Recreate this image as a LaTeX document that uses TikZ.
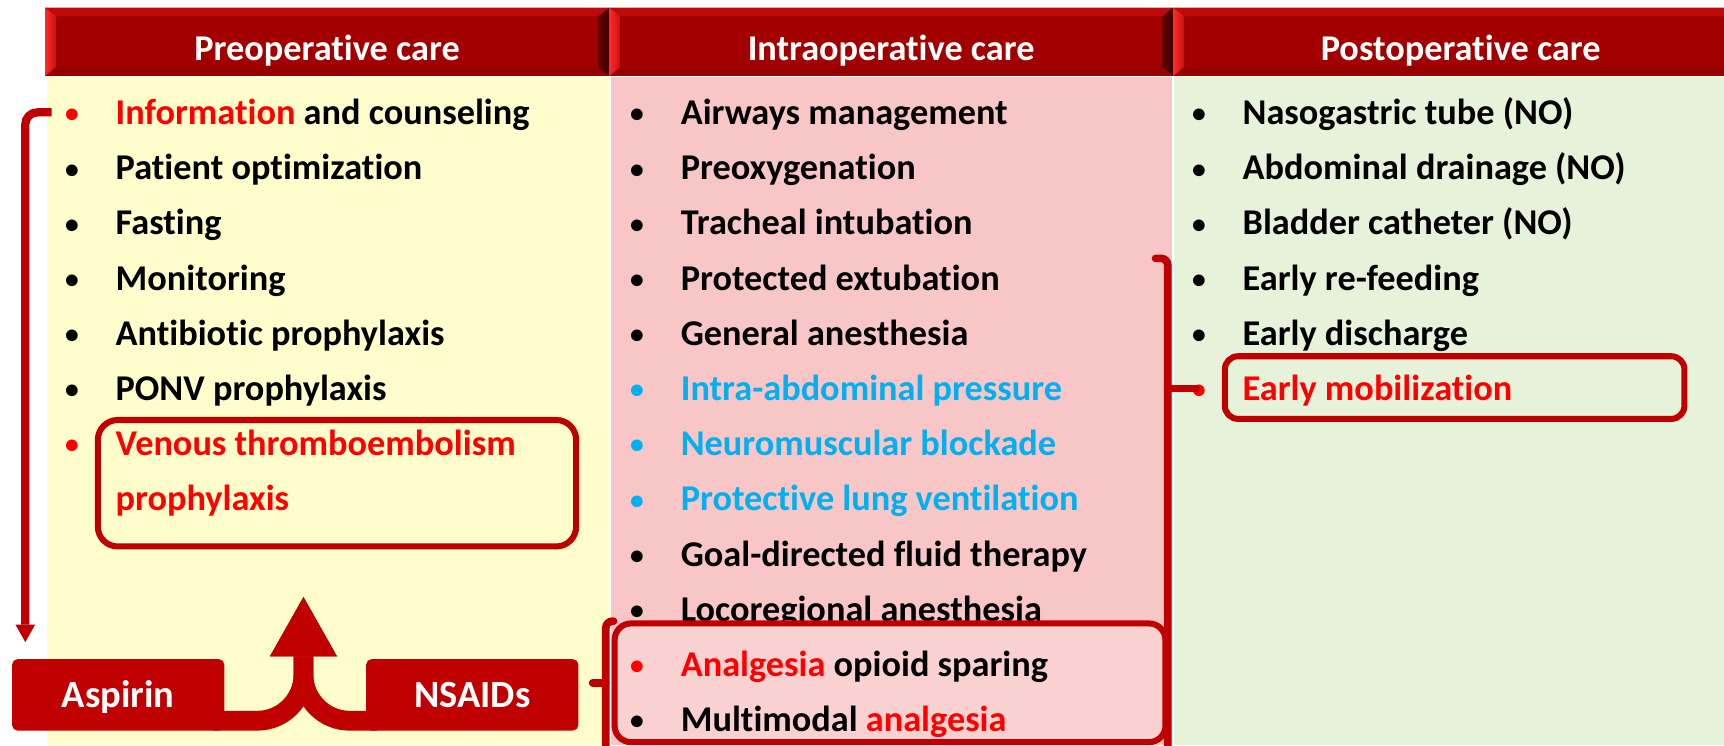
\documentclass[tikz,border=0pt]{standalone}
\usepackage{fontspec}
\setmainfont{Carlito}[Ligatures=NoCommon]
\usetikzlibrary{arrows.meta,positioning}

% keep "t" and "i" apart (no ti ligature)
\XeTeXinterchartokenstate=1
\newXeTeXintercharclass\tletter
\newXeTeXintercharclass\iletter
\XeTeXcharclass`t=\tletter
\XeTeXcharclass`i=\iletter
\XeTeXinterchartoks\tletter\iletter={\kern0pt}

% colours
\definecolor{hdface}{HTML}{A20000}
\definecolor{hdtop}{HTML}{BE0A0A}
\definecolor{hdbot}{HTML}{950000}
\definecolor{hdlit}{HTML}{FF2A2A}
\definecolor{hddark}{HTML}{3C0000}
\definecolor{boxred}{HTML}{C00000}
\definecolor{txtred}{HTML}{FF0000}
\definecolor{txtblue}{HTML}{00B0F0}
\definecolor{preBg}{HTML}{FFFDCB}
\definecolor{intraBg}{HTML}{F8C6C6}
\definecolor{postBg}{HTML}{E6F2DA}
\definecolor{analgBg}{HTML}{FAD1D1}

\newcommand{\listfont}{\fontsize{33}{40}\selectfont\bfseries}
\newcommand{\drugfont}{\fontsize{35}{42}\selectfont\bfseries}
\newcommand{\redtxt}[1]{\textcolor{txtred}{#1}}
\newcommand{\bluetxt}[1]{\textcolor{txtblue}{#1}}
% bullet + text, bullet colour optional
\newcommand{\itm}[2][black]{\makebox[48pt][l]{\hspace{2pt}\raisebox{1.5pt}{\fontsize{25}{25}\selectfont\textcolor{#1}{\textbullet}}}#2}

% bevelled title bar: left x, right x, name, title
\newcommand{\headbar}[4]{%
  \fill[hdface] (#1,7) rectangle (#2,69);
  \fill[hdtop] (#1,7) -- (#2,7) -- (#2-10,15) -- (#1+10,15) -- cycle;
  \fill[hdbot] (#1,69) -- (#2,69) -- (#2-10,61) -- (#1+10,61) -- cycle;
  \shade[left color=hdlit, right color=hdface!60!hdlit] (#1,7) -- (#1+10,15) -- (#1+10,61) -- (#1,69) -- cycle;
  \shade[left color=hddark!60!hdface, right color=hddark] (#2,7) -- (#2-10,15) -- (#2-10,61) -- (#2,69) -- cycle;
  \node[headtitle] (#3) at ({(#1+#2)/2},55) {#4};
}

\begin{document}
\begin{tikzpicture}[
    x = 1pt, y = -1pt, % points, y going down
    listitem/.style = {anchor=base west, inner sep=0pt, font=\listfont,
                       text height=23pt, text depth=7pt},
    headtitle/.style = {anchor=base, inner sep=0pt, text=white, font=\listfont},
    ringbox/.style = {draw=boxred, line width=5.5pt, inner sep=0pt},
    drugbox/.style = {fill=boxred, text=white, font=\drugfont, rounded corners=5pt,
                      minimum width=193pt, minimum height=65pt, inner sep=0pt,
                      outer sep=0pt, text height=23pt, text depth=0pt},
    bracketline/.style = {draw=boxred, line width=7pt, line cap=round, rounded corners=6pt},
    flowarrow/.style = {draw=boxred, line width=7.5pt, rounded corners=11pt,
                        -{Triangle[width=18pt,length=16pt,line width=0pt]}},
    mergeband/.style = {draw=boxred, line width=18pt, rounded corners=42pt,
                        -{Triangle[width=61pt,length=54pt,line width=0pt]}}
    ]
    \useasboundingbox (0,0) rectangle (1568,678);
    \fill[white] (0,0) rectangle (1568,678);

    % column backgrounds
    \fill[preBg] (43,70) rectangle (553.5,678);
    \fill[intraBg] (555.5,70) rectangle (1066,678);
    \fill[postBg] (1068,70) rectangle (1568,678);

    % title bars
    \headbar{41}{554}{preHead}{Preoperative care}
    \headbar{554}{1067}{intraHead}{Intraoperative care}
    \headbar{1067}{1590}{postHead}{Postoperative care}

    % preoperative list
    \foreach \txt [count=\i] in {
        {\itm[txtred]{\redtxt{Information} and counseling}},
        {\itm{Patient optimization}},
        {\itm{Fasting}},
        {\itm{Monitoring}},
        {\itm{Antibiotic prophylaxis}},
        {\itm{PONV prophylaxis}},
        {\itm[txtred]{\redtxt{Venous thromboembolism}}},
        {\hspace*{48pt}\redtxt{prophylaxis}}}
      \node[listitem] (pre\i) at (57,63+50.2*\i) {\txt};

    % postoperative list
    \foreach \txt [count=\i] in {
        {\itm{Nasogastric tube (NO)}},
        {\itm{Abdominal drainage (NO)}},
        {\itm{Bladder catheter (NO)}},
        {\itm{Early re-feeding}},
        {\itm{Early discharge}},
        {\itm[txtred]{\redtxt{Early mobilization}}}}
      \node[listitem] (post\i) at (1082,63+50.2*\i) {\txt};

    % intraoperative list
    \foreach \txt [count=\i] in {
        {\itm{Airways management}},
        {\itm{Preoxygenation}},
        {\itm{Tracheal intubation}},
        {\itm{Protected extubation}},
        {\itm{General anesthesia}},
        {\itm[txtblue]{\bluetxt{Intra-abdominal pressure}}},
        {\itm[txtblue]{\bluetxt{Neuromuscular blockade}}},
        {\itm[txtblue]{\bluetxt{Protective lung ventilation}}},
        {\itm{Goal-directed fluid therapy}},
        {\itm{Locoregional anesthesia}}}
      \node[listitem] (intra\i) at (571,63+50.2*\i) {\txt};

    % analgesia group
    \node[ringbox, fill=analgBg, rounded corners=15pt,
          minimum width=501pt, minimum height=108pt] (analgBox) at (809.5,621) {};
    \node[listitem] (intra11) at (571,63+50.2*11) {\itm[txtred]{\redtxt{Analgesia} opioid sparing}};
    \node[listitem] (intra12) at (571,63+50.2*12) {\itm{Multimodal \redtxt{analgesia}}};

    % highlighted items
    \node[ringbox, rounded corners=18pt,
          minimum width=435pt, minimum height=115pt] (vteBox) at (306.5,439.5) {};
    \node[ringbox, rounded corners=12pt,
          minimum width=418pt, minimum height=57pt] (mobBox) at (1323,352.5) {};

    % drugs
    \node[drugbox] (aspirin) at (107.5,632) {Aspirin};
    \node[drugbox] (nsaids) [right=129pt of aspirin] {NSAIDs};
    \coordinate (mergeTip) at (276,543);
    \draw[mergeband] ([xshift=-10pt,yshift=9pt]aspirin.south east) -| (mergeTip);
    \draw[mergeband] ([xshift=10pt,yshift=9pt]nsaids.south west) -| (mergeTip);

    % brackets
    \coordinate (rbTop) at (1062,235);
    \coordinate (rbEnd) at (1062,690);
    \draw[bracketline] ([xshift=-11pt]rbTop) -- (rbTop) -- (rbEnd);
    \draw[bracketline] ([yshift=3pt]rbTop |- post6.west) -- ([xshift=6pt,yshift=3pt]post6.west);

    \coordinate (lbTop) at (551,565);
    \coordinate (lbEnd) at (551,690);
    \draw[bracketline] ([xshift=7pt]lbTop) -- (lbTop) -- (lbEnd);
    \draw[bracketline] (lbTop |- analgBox.west) -- ([xshift=13pt]nsaids.east |- analgBox.west);

    % from information down to the drugs
    \coordinate (flowEnd) at (23,584);
    \draw[flowarrow] ([xshift=-10pt,yshift=3pt]pre1.west) -| (flowEnd);
\end{tikzpicture}
\end{document}
